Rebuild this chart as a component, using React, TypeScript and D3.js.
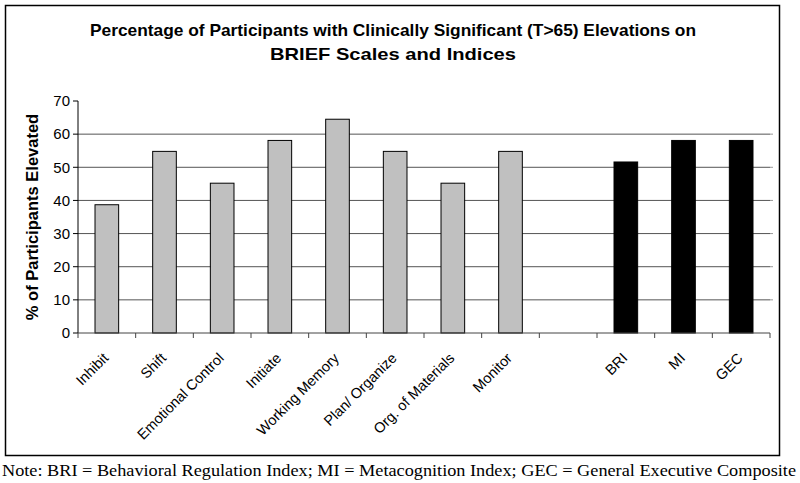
import * as d3 from "d3";

const categories = [
  "Inhibit",
  "Shift",
  "Emotional Control",
  "Initiate",
  "Working Memory",
  "Plan/ Organize",
  "Org. of Materials",
  "Monitor",
  "",
  "BRI",
  "MI",
  "GEC",
];
const values: (number | null)[] = [38.7, 54.8, 45.2, 58.1, 64.5, 54.8, 45.2, 54.8, null, 51.6, 58.1, 58.1];
const indexCats = ["BRI", "MI", "GEC"];
const yTicks = [0, 10, 20, 30, 40, 50, 60, 70];
const titleLines = [
  "Percentage of Participants with Clinically Significant (T>65) Elevations on",
  "BRIEF Scales and Indices",
];
const titleWidths = [606, 246];
const note = "Note: BRI = Behavioral Regulation Index; MI = Metacognition Index; GEC = General Executive Composite";

const W = 800;
const H = 483;
const left = 78;
const right = 770;
const top = 101;
const bottom = 333;

export default function App() {
  const keys = categories.map((c, i) => c || `gap${i}`);
  const x = d3.scaleBand<string>().domain(keys).range([left, right]).paddingInner(0.59).paddingOuter(0.295);
  const y = d3.scaleLinear().domain([0, 70]).range([bottom, top]);
  const step = x.step();
  const sans = "Arial, 'Liberation Sans', sans-serif";

  return (
    <svg width={W} height={H} style={{ position: "absolute", left: 0, top: 0, background: "#fff" }}>
      <rect x={5.5} y={5.5} width={774} height={450} fill="none" stroke="#000" strokeWidth={1.5} />
      {titleLines.map((t, i) => (
        <text
          key={i}
          x={393 - titleWidths[i] / 2}
          y={36 + i * 24}
          fontFamily={sans}
          fontWeight="bold"
          fontSize={17}
          textLength={titleWidths[i]}
          lengthAdjust="spacingAndGlyphs"
        >
          {t}
        </text>
      ))}
      {yTicks.filter((t) => t > 0 && t < 70).map((t) => (
        <line key={t} x1={left} x2={right} y1={y(t)} y2={y(t)} stroke="#555" strokeWidth={1} />
      ))}
      {yTicks.filter((t) => t > 0 && t < 70).map((t) => (
        <line key={`r${t}`} x1={right} x2={right + 3} y1={y(t)} y2={y(t)} stroke="#999" strokeWidth={1} />
      ))}
      {keys.map((k, i) => {
        const v = values[i];
        if (v == null) return null;
        const isIndex = indexCats.includes(categories[i]);
        return (
          <rect
            key={k}
            x={x(k)}
            y={y(v)}
            width={x.bandwidth()}
            height={y(0) - y(v)}
            fill={isIndex ? "#000" : "#c0c0c0"}
            stroke="#000"
            strokeWidth={1}
          />
        );
      })}
      {/* y axis */}
      <line x1={left} x2={left} y1={top} y2={bottom} stroke="#000" />
      {yTicks.map((t) => (
        <g key={`yt${t}`}>
          <line x1={left - 5} x2={left} y1={y(t)} y2={y(t)} stroke="#000" />
          <text x={left - 8} y={y(t)} dy="0.35em" textAnchor="end" fontFamily={sans} fontSize={15}>
            {t}
          </text>
        </g>
      ))}
      {/* x axis */}
      <line x1={left} x2={right} y1={bottom} y2={bottom} stroke="#444" />
      {d3.range(keys.length + 1).map((i) => (
        <line key={`xt${i}`} x1={left + i * step} x2={left + i * step} y1={bottom} y2={bottom + 5} stroke="#444" />
      ))}
      {keys.map((k, i) => {
        if (!categories[i]) return null;
        const cx = (x(k) as number) + x.bandwidth() / 2 + 2.5;
        const cy = bottom + 26;
        return (
          <text
            key={`xl${k}`}
            transform={`translate(${cx},${cy}) rotate(-45)`}
            textAnchor="end"
            fontFamily={sans}
            fontSize={14.5}
          >
            {categories[i]}
          </text>
        );
      })}
      <text
        x={0}
        y={0}
        transform={`translate(38,${(top + bottom) / 2}) rotate(-90)`}
        textAnchor="middle"
        fontFamily={sans}
        fontWeight="bold"
        fontSize={16.5}
      >
        % of Participants Elevated
      </text>
      <text x={2} y={476} fontFamily="'Liberation Serif', 'Times New Roman', serif" fontSize={17.5} textLength={794} lengthAdjust="spacingAndGlyphs">
        {note}
      </text>
    </svg>
  );
}
